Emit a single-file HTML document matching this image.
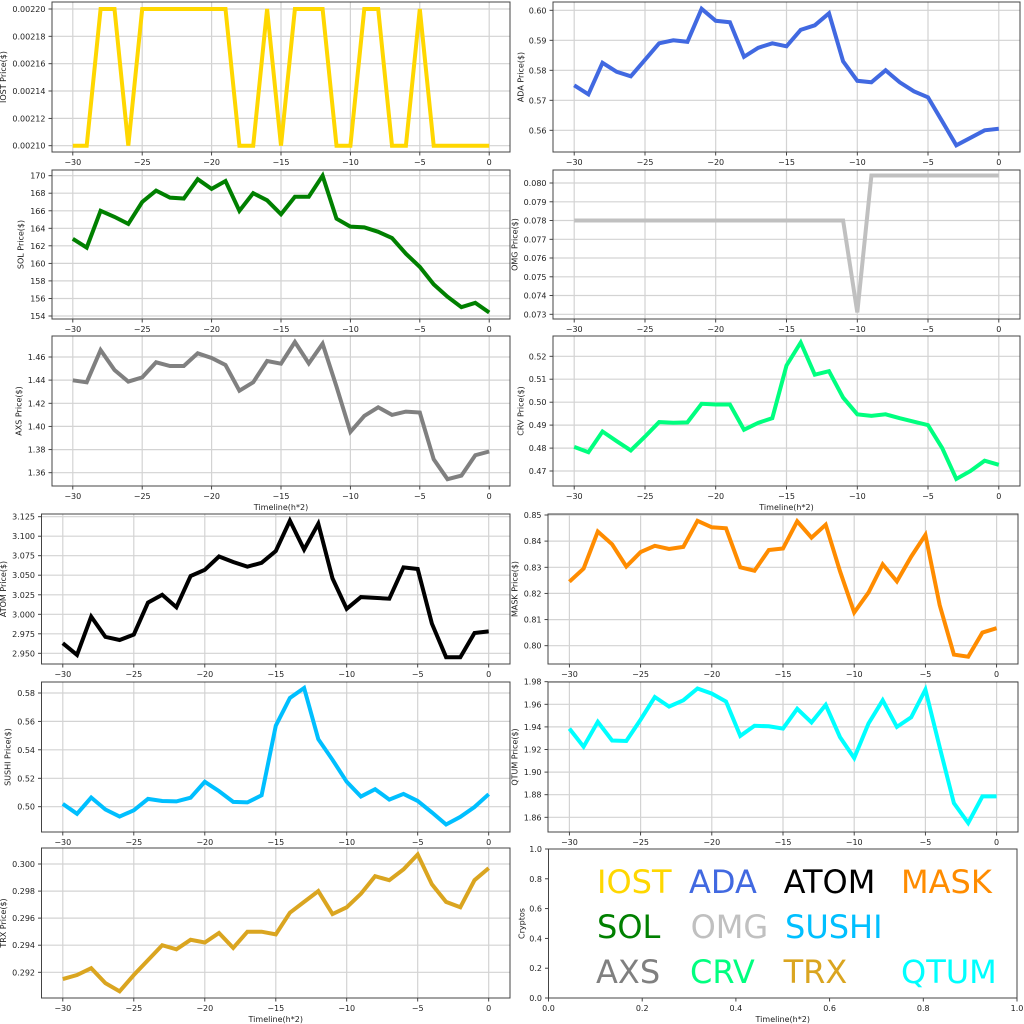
<!DOCTYPE html>
<html><head><meta charset="utf-8"><style>
html,body{margin:0;padding:0;background:#fff;}
svg{display:block;font-family:"DejaVu Sans","Liberation Sans",sans-serif;}
</style></head><body>
<svg id="s" width="1024" height="1024" viewBox="0 0 1024 1024" xmlns="http://www.w3.org/2000/svg"></svg>
<script>
var P=[
{n:"IOST Price($)",c:"#FFD700",x0:52,x1:510,y0:2,y1:152,a:[0.0022,9],b:[0.0021,145.7],lx:3.5,
t:[[0.0021,"0.00210"],[0.00212,"0.00212"],[0.00214,"0.00214"],[0.00216,"0.00216"],[0.00218,"0.00218"],[0.0022,"0.00220"]],
d:[.0021,.0021,.0022,.0022,.0021,.0022,.0022,.0022,.0022,.0022,.0022,.0022,.0021,.0021,.0022,.0021,.0022,.0022,.0022,.0021,.0021,.0022,.0022,.0021,.0021,.0022,.0021,.0021,.0021,.0021,.0021]},
{n:"ADA  Price($)",c:"#4169E1",x0:553,x1:1020,y0:2,y1:152,a:[0.60,10.3],b:[0.56,130.3],lx:521,
t:[[.56,"0.56"],[.57,"0.57"],[.58,"0.58"],[.59,"0.59"],[.60,"0.60"]],
d:[.575,.572,.5825,.5795,.578,.5835,.589,.590,.5895,.6005,.5965,.596,.5845,.5875,.589,.588,.5935,.595,.599,.583,.5765,.576,.580,.576,.573,.571,.563,.555,.5575,.560,.5605]},
{n:"SOL Price($)",c:"#008000",x0:52,x1:510,y0:170,y1:319,a:[170,175.7],b:[154,316],lx:21,
t:[[154,"154"],[156,"156"],[158,"158"],[160,"160"],[162,"162"],[164,"164"],[166,"166"],[168,"168"],[170,"170"]],
d:[162.8,161.8,166,165.3,164.5,167,168.3,167.5,167.4,169.6,168.5,169.4,166,168,167.2,165.6,167.6,167.6,170,165.1,164.2,164.1,163.6,162.9,161.1,159.6,157.6,156.2,155,155.5,154.4]},
{n:"OMG  Price($)",c:"#C0C0C0",x0:553,x1:1020,y0:170,y1:319,a:[0.080,183],b:[0.073,314.3],lx:515,
t:[[.073,"0.073"],[.074,"0.074"],[.075,"0.075"],[.076,"0.076"],[.077,"0.077"],[.078,"0.078"],[.079,"0.079"],[.080,"0.080"]],
d:[.078,.078,.078,.078,.078,.078,.078,.078,.078,.078,.078,.078,.078,.078,.078,.078,.078,.078,.078,.078,.0731,.0804,.0804,.0804,.0804,.0804,.0804,.0804,.0804,.0804,.0804]},
{n:"AXS Price($)",c:"#808080",x0:52,x1:510,y0:336,y1:486,a:[1.46,357],b:[1.36,472.7],lx:19,xl:1,
t:[[1.36,"1.36"],[1.38,"1.38"],[1.40,"1.40"],[1.42,"1.42"],[1.44,"1.44"],[1.46,"1.46"]],
d:[1.4399,1.4381,1.466,1.4488,1.4387,1.4424,1.4554,1.4522,1.4522,1.4632,1.4591,1.4531,1.4309,1.4381,1.4565,1.4542,1.473,1.4545,1.4715,1.4344,1.3953,1.4091,1.4165,1.41,1.4128,1.412,1.3716,1.3544,1.3575,1.3751,1.3783]},
{n:"CRV  Price($)",c:"#00FF7F",x0:553,x1:1020,y0:336,y1:486,a:[0.52,356.3],b:[0.47,471],lx:521,xl:1,
t:[[.47,"0.47"],[.48,"0.48"],[.49,"0.49"],[.50,"0.50"],[.51,"0.51"],[.52,"0.52"]],
d:[.4805,.4782,.4872,.483,.479,.485,.4913,.491,.4912,.4993,.499,.499,.488,.491,.493,.516,.526,.512,.5135,.502,.4947,.494,.4947,.493,.4915,.490,.480,.4665,.470,.4745,.4727]},
{n:"ATOM  Price($)",c:"#000000",x0:41.5,x1:510,y0:514,y1:664,a:[3.125,516.7],b:[2.95,653.3],lx:3.5,
t:[[2.95,"2.950"],[2.975,"2.975"],[3.0,"3.000"],[3.025,"3.025"],[3.05,"3.050"],[3.075,"3.075"],[3.1,"3.100"],[3.125,"3.125"]],
d:[2.963,2.948,2.997,2.971,2.967,2.974,3.015,3.025,3.009,3.049,3.057,3.074,3.067,3.061,3.066,3.081,3.120,3.083,3.116,3.046,3.007,3.022,3.021,3.020,3.060,3.058,2.988,2.945,2.945,2.976,2.978]},
{n:"MASK  Price($)",c:"#FF8C00",x0:548,x1:1018,y0:514,y1:664,a:[0.85,515],b:[0.80,645.7],lx:515,
t:[[.80,"0.80"],[.81,"0.81"],[.82,"0.82"],[.83,"0.83"],[.84,"0.84"],[.85,"0.85"]],
d:[.8245,.8295,.8437,.8388,.8303,.8358,.8382,.837,.8378,.8478,.8453,.8449,.830,.8287,.8366,.8372,.8476,.8413,.8463,.8285,.8127,.8203,.8311,.8246,.8341,.8424,.8155,.7966,.7958,.805,.8067]},
{n:"SUSHI  Price($)",c:"#00BFFF",x0:41.5,x1:510,y0:682,y1:832,a:[0.58,693],b:[0.50,806.7],lx:8,
t:[[.50,"0.50"],[.52,"0.52"],[.54,"0.54"],[.56,"0.56"],[.58,"0.58"]],
d:[.502,.495,.5065,.498,.493,.4975,.5055,.504,.5037,.5063,.5175,.511,.5034,.503,.508,.557,.5765,.5835,.5475,.533,.5175,.5072,.5123,.505,.509,.504,.496,.4875,.4928,.4998,.5088]},
{n:"QTUM Price($)",c:"#00FFFF",x0:548,x1:1018,y0:682,y1:832,a:[1.98,681.7],b:[1.86,817.3],lx:515,
t:[[1.86,"1.86"],[1.88,"1.88"],[1.90,"1.90"],[1.92,"1.92"],[1.94,"1.94"],[1.96,"1.96"],[1.98,"1.98"]],
d:[1.9385,1.9225,1.9445,1.928,1.9275,1.9465,1.9665,1.958,1.9635,1.974,1.9695,1.9625,1.932,1.941,1.9405,1.9385,1.956,1.944,1.9595,1.931,1.9125,1.943,1.9635,1.940,1.9485,1.973,1.922,1.8725,1.855,1.8785,1.8785]},
{n:"TRX Price($)",c:"#DAA520",x0:41.5,x1:510,y0:848,y1:998,a:[0.300,864],b:[0.292,972.3],lx:3.5,xl:1,
t:[[.292,"0.292"],[.294,"0.294"],[.296,"0.296"],[.298,"0.298"],[.300,"0.300"]],
d:[.2915,.2918,.2923,.2912,.2906,.2918,.2929,.2940,.2937,.2944,.2942,.2949,.2938,.2950,.2950,.2948,.2964,.2972,.2980,.2963,.2968,.2978,.2991,.2988,.2996,.3007,.2985,.2972,.2968,.2988,.2997]}
];
var XT=[[-30,"\u221230"],[-25,"\u221225"],[-20,"\u221220"],[-15,"\u221215"],[-10,"\u221210"],[-5,"\u22125"],[0,"0"]];
var FS='font-size="8"';
var h="";
function T(x,y,s,o){return '<text x="'+x+'" y="'+y+'" '+(o||'')+'>'+s+'</text>';}
P.forEach(function(p){
 var W=p.x1-p.x0;
 function X(v){return p.x0+(v+31.5)/33*W;}
 function Y(v){return p.a[1]+(v-p.a[0])/(p.b[0]-p.a[0])*(p.b[1]-p.a[1]);}
 var g="";
 XT.forEach(function(t){var x=X(t[0]).toFixed(1);
  g+='<line x1="'+x+'" x2="'+x+'" y1="'+p.y0+'" y2="'+p.y1+'" stroke="#d3d3d3" stroke-width="1.2"/>';
  g+='<line x1="'+x+'" x2="'+x+'" y1="'+p.y1+'" y2="'+(p.y1+3.5)+'" stroke="#333" stroke-width="0.9"/>';
  g+=T(x,p.y1+13,t[1],FS+' text-anchor="middle" fill="#222"');});
 p.t.forEach(function(t){var y=Y(t[0]).toFixed(1);
  g+='<line x1="'+p.x0+'" x2="'+p.x1+'" y1="'+y+'" y2="'+y+'" stroke="#d3d3d3" stroke-width="1.2"/>';
  g+='<line x1="'+(p.x0-3.5)+'" x2="'+p.x0+'" y1="'+y+'" y2="'+y+'" stroke="#333" stroke-width="0.9"/>';
  g+=T(p.x0-6.5,(+y+3).toFixed(1),t[1],FS+' text-anchor="end" fill="#222"');});
 var pts=p.d.map(function(v,i){return X(i-30).toFixed(1)+','+Y(v).toFixed(1);}).join(' ');
 g+='<polyline points="'+pts+'" fill="none" stroke="'+p.c+'" stroke-width="4" stroke-linejoin="miter" stroke-miterlimit="3"/>';
 g+='<rect x="'+p.x0+'" y="'+p.y0+'" width="'+W+'" height="'+(p.y1-p.y0)+'" fill="none" stroke="#444" stroke-width="1"/>';
 var cy=(p.y0+p.y1)/2;
 g+='<text transform="translate('+(p.lx+2.5)+','+cy+') rotate(-90)" '+FS+' text-anchor="middle" fill="#222">'+p.n+'</text>';
 if(p.xl) g+=T((p.x0+p.x1)/2,p.y1+24,"Timeline(h*2)",FS+' text-anchor="middle" fill="#222"');
 h+=g;
});
var L={x0:548.5,x1:1017,y0:849,y1:998};
var g="";
[[0,"0.0"],[0.2,"0.2"],[0.4,"0.4"],[0.6,"0.6"],[0.8,"0.8"],[1,"1.0"]].forEach(function(t){
 var x=(L.x0+t[0]*(L.x1-L.x0)).toFixed(1), y=(L.y1-t[0]*(L.y1-L.y0)).toFixed(1);
 g+='<line x1="'+x+'" x2="'+x+'" y1="'+L.y1+'" y2="'+(L.y1+3.5)+'" stroke="#333" stroke-width="0.9"/>';
 g+=T(x,L.y1+13,t[1],FS+' text-anchor="middle" fill="#222"');
 g+='<line x1="'+(L.x0-3.5)+'" x2="'+L.x0+'" y1="'+y+'" y2="'+y+'" stroke="#333" stroke-width="0.9"/>';
 g+=T(L.x0-6.5,(+y+3).toFixed(1),t[1],FS+' text-anchor="end" fill="#222"');
});
g+='<rect x="'+L.x0+'" y="'+L.y0+'" width="'+(L.x1-L.x0)+'" height="'+(L.y1-L.y0)+'" fill="none" stroke="#444" stroke-width="1"/>';
g+='<text transform="translate(524.5,'+((L.y0+L.y1)/2)+') rotate(-90)" '+FS+' text-anchor="middle" fill="#222">Cryptos</text>';
g+=T((L.x0+L.x1)/2,L.y1+24,"Timeline(h*2)",FS+' text-anchor="middle" fill="#222"');
[["IOST","#FFD700",597,893],["ADA","#4169E1",689,893],["ATOM","#000000",783.6,893],["MASK","#FF8C00",901,893],
 ["SOL","#008000",597,938],["OMG","#C0C0C0",690.6,938],["SUSHI","#00BFFF",785,938],
 ["AXS","#808080",596,983],["CRV","#00FF7F",690,983],["TRX","#DAA520",783.6,983],["QTUM","#00FFFF",901,983]].forEach(function(w){
 g+=T(w[2],w[3],w[0],'font-size="32" fill="'+w[1]+'"');});
h+=g;
document.getElementById("s").innerHTML=h;
</script>
</body></html>
